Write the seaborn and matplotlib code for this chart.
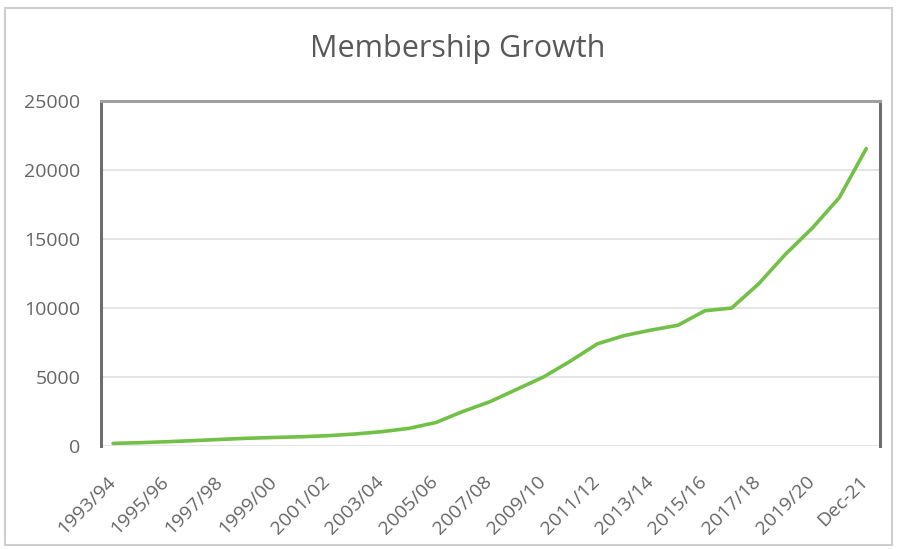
import matplotlib
matplotlib.use("Agg")
import matplotlib.pyplot as plt
import matplotlib.transforms as mtransforms
import seaborn as sns
import numpy as np
import pandas as pd
from matplotlib.patches import Rectangle

seasons = ["1993/94", "1994/95", "1995/96", "1996/97", "1997/98", "1998/99",
           "1999/00", "2000/01", "2001/02", "2002/03", "2003/04", "2004/05",
           "2005/06", "2006/07", "2007/08", "2008/09", "2009/10", "2010/11",
           "2011/12", "2012/13", "2013/14", "2014/15", "2015/16", "2016/17",
           "2017/18", "2018/19", "2019/20", "2020/21", "Dec-21"]
members = [190, 240, 310, 390, 480, 560, 620, 670, 750, 870, 1040, 1280,
           1700, 2500, 3200, 4100, 5000, 6150, 7400, 8000, 8400, 8750,
           9800, 10000, 11750, 13900, 15800, 18000, 21550]
yticks = [0, 5000, 10000, 15000, 20000, 25000]

sns.set_theme(style="white")
plt.rcParams["font.family"] = ["Open Sans", "DejaVu Sans"]

df = pd.DataFrame({"pos": np.arange(len(seasons)), "members": members})

fig = plt.figure(figsize=(9, 5.49), dpi=100)
ax = fig.add_axes([0.1122, 0.1876, 0.8658, 0.6284])
sns.lineplot(data=df, x="pos", y="members", ax=ax, color="#72c045", linewidth=2.6)

ax.set_xlim(-0.45, 28.52)
ax.set_ylim(0, 25000)
ax.set_yticks(yticks)
ax.set_yticklabels([str(v) for v in yticks])
ax.set_xticks(np.arange(0, len(seasons), 2))
ax.set_xticklabels(seasons[::2], rotation=45, ha="right", rotation_mode="anchor")
ax.tick_params(axis="y", length=0, pad=15, labelsize=14, labelcolor="#666666")
ax.tick_params(axis="x", length=0, pad=14, labelsize=14, labelcolor="#666666")
shift = mtransforms.ScaledTranslation(-0.07, -0.07, fig.dpi_scale_trans)
for lbl in ax.get_xticklabels():
    lbl.set_transform(lbl.get_transform() + shift)
ax.set_xlabel("")
ax.set_ylabel("")
ax.grid(axis="y", color="#e0e0e0", linewidth=1.2)
ax.set_axisbelow(True)

for side in ["left", "right"]:
    ax.spines[side].set_color("#6e6e6e")
    ax.spines[side].set_linewidth(2.2)
ax.spines["top"].set_color("#a0a0a0")
ax.spines["top"].set_linewidth(2.2)
ax.spines["bottom"].set_visible(False)

fig.text(0.509, 0.911, "Membership Growth", ha="center", va="center",
         fontsize=22, color="#595959")

fig.patches.append(Rectangle((0.006, 0.008), 0.985, 0.978, transform=fig.transFigure,
                             fill=False, edgecolor="#cfcfcf", linewidth=1.5))

fig.savefig("out.png", dpi=100)
